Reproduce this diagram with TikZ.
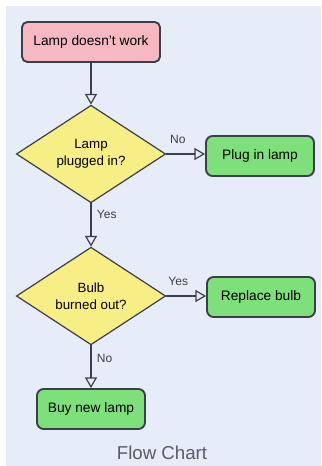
\documentclass[tikz,border=0pt]{standalone}
\usepackage{fontspec}
\setmainfont{Liberation Sans}
\usetikzlibrary{shapes.geometric,arrows.meta}
\definecolor{bgc}{HTML}{E6ECF8}
\definecolor{startc}{HTML}{F6B9C2}
\definecolor{decc}{HTML}{F7EE86}
\definecolor{endc}{HTML}{7EE07A}
\definecolor{linec}{HTML}{3A3F4A}
\tikzset{
  startbox/.style={draw=linec, line width=1.4pt, fill=startc, rounded corners=4pt, minimum width=103.5pt, minimum height=30pt, font=\fontsize{10.3}{12}\selectfont, inner sep=1pt},
  endbox/.style={draw=linec, line width=1.4pt, fill=endc, rounded corners=5pt, minimum width=81pt, minimum height=30pt, font=\fontsize{10.3}{12}\selectfont, inner sep=1pt},
  decbox/.style={draw=linec, line width=0.9pt, fill=decc, diamond, minimum width=112pt, minimum height=72pt, inner sep=0pt, align=center, font=\fontsize{10}{12.5}\selectfont},
  flow/.style={draw=linec, line width=0.9pt, -{Triangle[open, length=8pt, width=9pt, line width=0.9pt]}},
  lbl/.style={font=\fontsize{9}{10}\selectfont, text=linec, inner sep=1pt}
}
\begin{document}
\begin{tikzpicture}[x=0.75pt, y=-0.75pt]
\useasboundingbox (0,0) rectangle (321,466);
\fill[white] (0,0) rectangle (321,466);
\fill[bgc] (6,6) rectangle (321,466);
\node[startbox] (start) at (91,42) {Lamp doesn't work};
\node[decbox] (d1) at (91,154) {Lamp\\plugged in?};
\node[endbox] (plug) at (260,156) {Plug in lamp};
\node[decbox] (d2) at (91,296) {Bulb\\burned out?};
\node[endbox] (repl) at (261,297) {Replace bulb};
\node[endbox] (buy) at (91,409) {Buy new lamp};
\node[font=\fontsize{14}{16}\selectfont, text=linec!85] (cap) at (162,453) {Flow Chart};
\draw[flow] (start) -- (d1);
\draw[flow] (d1.east) -- (plug.west |- d1.east) node[lbl, pos=0.3, above=6pt] {No};
\draw[flow] (d1) -- (d2) node[lbl, pos=0.25, right=3pt] {Yes};
\draw[flow] (d2.east) -- (repl.west |- d2.east) node[lbl, pos=0.3, above=6pt] {Yes};
\draw[flow] (d2) -- (buy) node[lbl, pos=0.3, right=3pt] {No};
\end{tikzpicture}
\end{document}
